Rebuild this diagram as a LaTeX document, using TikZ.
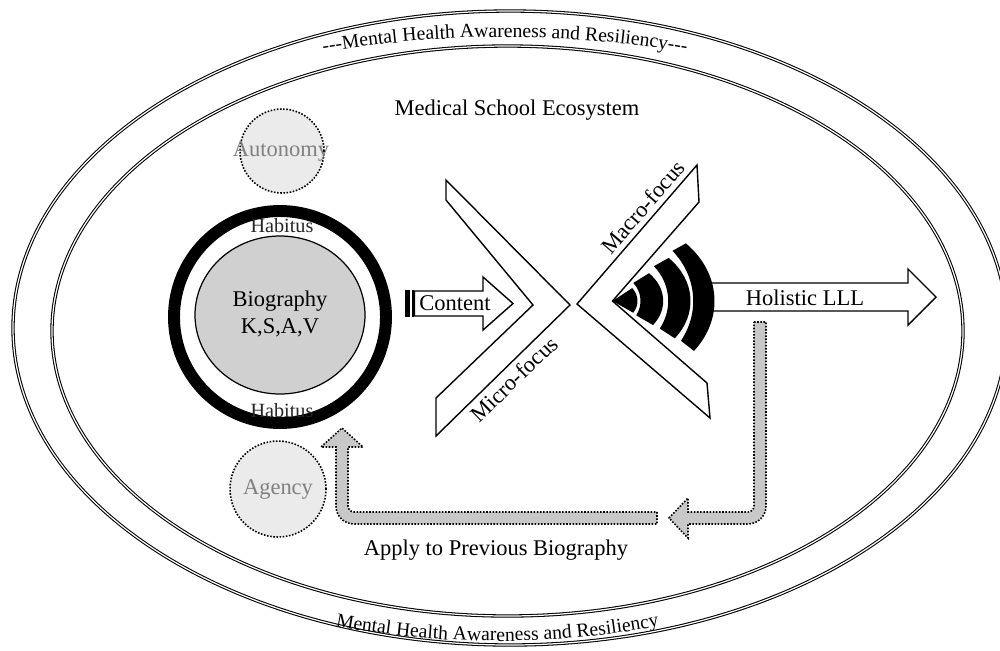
\documentclass[tikz,border=0pt]{standalone}
\usepackage{fontspec}
\setmainfont{Liberation Serif}
\usetikzlibrary{decorations.text}
\newcommand\myfs[1]{\fontsize{#1}{#1}\selectfont}
\definecolor{bubblefill}{HTML}{EBEBEB}
\definecolor{biofill}{HTML}{D0D0D0}
\definecolor{fbfill}{HTML}{C8C8C8}
\definecolor{softtext}{HTML}{808080}
\begin{document}
\begin{tikzpicture}[x=0.02cm,y=0.02cm,
  ell/.style={draw=black, double=white, double distance=0.7pt, line width=0.6pt},
  chev/.style={draw=black, fill=white, line width=0.8pt, line join=miter},
  blockarrow/.style={draw=black, fill=white, line width=0.8pt},
  fbarrow/.style={draw=black, fill=fbfill, line width=0.9pt, dash pattern=on 0.9pt off 0.9pt},
  bubble/.style={draw=black, fill=bubblefill, line width=0.9pt, dash pattern=on 0.9pt off 0.9pt},
  txt/.style={inner sep=0pt, font=\myfs{12.8}},
]
\useasboundingbox (0,0) rectangle (1000,-650);

% ellipses
\draw[ell] (510,-328) ellipse [x radius=497, y radius=317];
\draw[ell] (507.5,-331) ellipse [x radius=455.5, y radius=285];

% curved texts
\path[decorate, decoration={text along path, text align=center,
  text={|\myfs{11.2}|---Mental Health Awareness and Resiliency---}}]
  plot[domain=300:710, samples=160] (\x, {-(37+20*((\x-505)/205)^2)});
\path[decorate, decoration={text along path, text align=center,
  text={|\myfs{11.2}|Mental Health Awareness and Resiliency}}]
  plot[domain=320:675, samples=160] (\x, {-(641-18*((\x-497.5)/177.5)^2)});

\node[txt] (eco) at (517,-110) {Medical School Ecosystem};

% autonomy / agency
\draw[bubble] (282,-151) circle [radius=42];
\node[txt, text=softtext] (auton) at (281,-151) {Autonomy};
\draw[bubble] (278,-489) circle [radius=48];
\node[txt, text=softtext] (agency) at (278,-489) {Agency};

% biography
\draw[line width=0.7pt, fill=biofill] (280,-315) ellipse [x radius=85, y radius=79];
\draw[line width=6.8pt] (280,-317) circle [radius=106];
\node[txt, align=center] (bio) at (280,-314) {Biography\\[3pt]K,S,A,V};
\node[txt, font=\myfs{11.5}, text=black!85] (hab1) at (282,-226) {Habitus};
\node[txt, font=\myfs{11.5}, text=black!85] (hab2) at (282,-411) {Habitus};

% content arrow
\fill (405,-290) rectangle (410,-317);
\fill (412.3,-290) rectangle (413.8,-317);
\draw[blockarrow] (414.5,-291) -- (483,-291) -- (483,-277) -- (513,-303.5) -- (483,-330) -- (483,-316) -- (414.5,-316) -- cycle;
\node[txt] (content) at (455,-303) {Content};

% chevrons
\draw[chev] (446,-180) -- (570,-305) -- (436,-436) -- (436,-398) -- (533,-305) -- (446,-200) -- cycle;
\draw[chev] (577,-304) -- (697,-165) -- (699,-202) -- (612.5,-301) -- (707,-383) -- (710,-418) -- cycle;
\node[txt, rotate=44] (micro) at (514,-379) {Micro-focus};
\node[txt, rotate=49] (macro) at (643,-207) {Macro-focus};

% holistic arrow
\draw[blockarrow] (708,-283) -- (908,-283) -- (908,-269) -- (936,-297) -- (908,-325) -- (908,-311) -- (708,-311) -- cycle;
\node[txt] (holistic) at (805,-298) {Holistic LLL};

% signal arcs
\coordinate (wc) at (612.5,-301);
\fill (wc) -- ([shift={(-34:25 and 21)}]wc) arc[start angle=-34, end angle=38, x radius=25, y radius=21] -- cycle;
\foreach \rxi/\ryi/\rxo/\ryo in {28/27/50.7/40, 55.7/52/78/62, 80.7/75/102/83}{
  \fill ([shift={(-32:\rxi\space and \ryi)}]wc) arc[start angle=-32, end angle=42, x radius=\rxi, y radius=\ryi]
    -- ([shift={(44:\rxo\space and \ryo)}]wc) arc[start angle=44, end angle=-37, x radius=\rxo, y radius=\ryo] -- cycle;
}

% feedback arrows
\draw[fbarrow] (754,-322) -- (766,-322) -- (766,-506) arc[start angle=0, end angle=-90, radius=18]
  -- (688,-524) -- (688,-538) -- (669,-518) -- (688,-498) -- (688,-512) -- (748,-512)
  arc[start angle=-90, end angle=0, radius=6] -- cycle;
\draw[fbarrow] (657,-512) -- (657,-524) -- (354,-524) arc[start angle=-90, end angle=-180, radius=18]
  -- (336,-447) -- (321,-447) -- (342,-428) -- (363,-447) -- (348,-447) -- (348,-506)
  arc[start angle=180, end angle=270, radius=6] -- cycle;
\node[txt] (apply) at (496,-550) {Apply to Previous Biography};
\end{tikzpicture}
\end{document}
